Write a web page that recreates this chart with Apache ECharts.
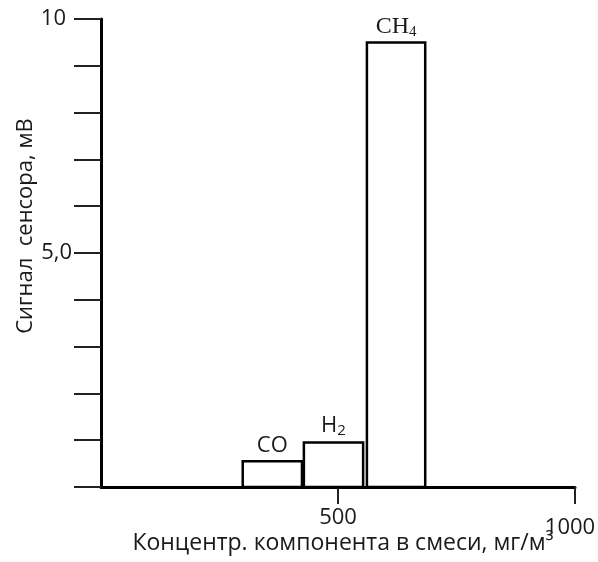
<!DOCTYPE html>
<html>
<head>
<meta charset="utf-8">
<script src="https://cdn.jsdelivr.net/npm/echarts@6/dist/echarts.min.js"></script>
<style>
  html, body { margin: 0; padding: 0; background: #fff; }
  #chart { width: 598px; height: 562px; }
</style>
</head>
<body>
<div id="chart"></div>
<script>
// gas components: bar start / end on the concentration axis, signal height
const gases = ['CO', 'H{sub|2}', 'CH{sub4|4}'];
const barStart = [299, 428, 561];
const barEnd = [424, 553, 684];
const signal = [0.55, 0.95, 9.5];
const xTicks = [500, 1000];
const yLabels = [5, 10];

const font = '"Open Sans", sans-serif';
const serif = '"Liberation Serif", serif';
const ink = '#1a1a1a';

var data = gases.map(function (g, i) { return [barStart[i], barEnd[i], signal[i], g]; });

var chart = echarts.init(document.getElementById('chart'), null, { renderer: 'canvas' });
chart.setOption({
  animation: false,
  grid: { left: 101, right: 23, top: 19, bottom: 75, outerBoundsMode: 'none', containLabel: false },
  xAxis: {
    type: 'value', min: 0, max: 1000, interval: 500,
    splitLine: { show: false },
    axisLine: { lineStyle: { color: '#000', width: 3 } },
    axisTick: { customValues: xTicks, length: 17, lineStyle: { color: '#222', width: 2 } },
    axisLabel: {
      customValues: xTicks, margin: 20, fontSize: 22, color: ink, fontFamily: font,
      formatter: function (v) { return v === 1000 ? '{lo|1000}' : String(v); },
      rich: { lo: { fontSize: 22, color: ink, fontFamily: font, padding: [10, 10, 0, 0] } }
    },
    name: 'Концентр. компонента в смеси, мг/м³',
    nameLocation: 'middle', nameGap: 45, nameMoveOverlap: false,
    nameTextStyle: { fontSize: 23, color: ink, fontFamily: font, padding: [0, 0, 0, 10] }
  },
  yAxis: {
    type: 'value', min: 0, max: 10, interval: 1,
    splitLine: { show: false },
    axisLine: { show: true, lineStyle: { color: '#000', width: 3 } },
    axisTick: { show: true, length: 27, lineStyle: { color: '#222', width: 2 } },
    axisLabel: {
      customValues: yLabels, margin: 29, fontSize: 22, color: ink, fontFamily: font,
      formatter: function (v) { return v === 5 ? '5,0' : '{t|10}'; },
      rich: { t: { fontSize: 22, color: ink, fontFamily: font, padding: [0, 6, 0, 0] } }
    },
    name: 'Сигнал  сенсора, мВ',
    nameLocation: 'middle', nameGap: 64, nameRotate: 90, nameMoveOverlap: false,
    nameTextStyle: { fontSize: 22, color: ink, fontFamily: font, padding: [0, 0, 0, 54] }
  },
  series: [{
    type: 'custom',
    data: data,
    renderItem: function (params, api) {
      var p0 = api.coord([api.value(0), api.value(2)]);
      var p1 = api.coord([api.value(1), 0]);
      var label = data[params.dataIndex][3];
      var isCH4 = params.dataIndex === 2;
      return {
        type: 'rect',
        shape: { x: p0[0], y: p0[1], width: p1[0] - p0[0], height: p1[1] - p0[1] },
        style: { fill: '#fff', stroke: '#000', lineWidth: 2.5 },
        textContent: {
          style: {
            text: label,
            fontSize: isCH4 ? 24 : 22,
            fontFamily: isCH4 ? serif : font,
            fill: ink,
            rich: {
              sub: { fontSize: 15, fontFamily: font, fill: ink, padding: [10, 0, 0, 0] },
              sub4: { fontSize: 15, fontFamily: serif, fill: ink, padding: [10, 0, 0, 0] }
            }
          }
        },
        textConfig: { position: 'top', distance: isCH4 ? 2 : 3 }
      };
    }
  }]
});
</script>
</body>
</html>
